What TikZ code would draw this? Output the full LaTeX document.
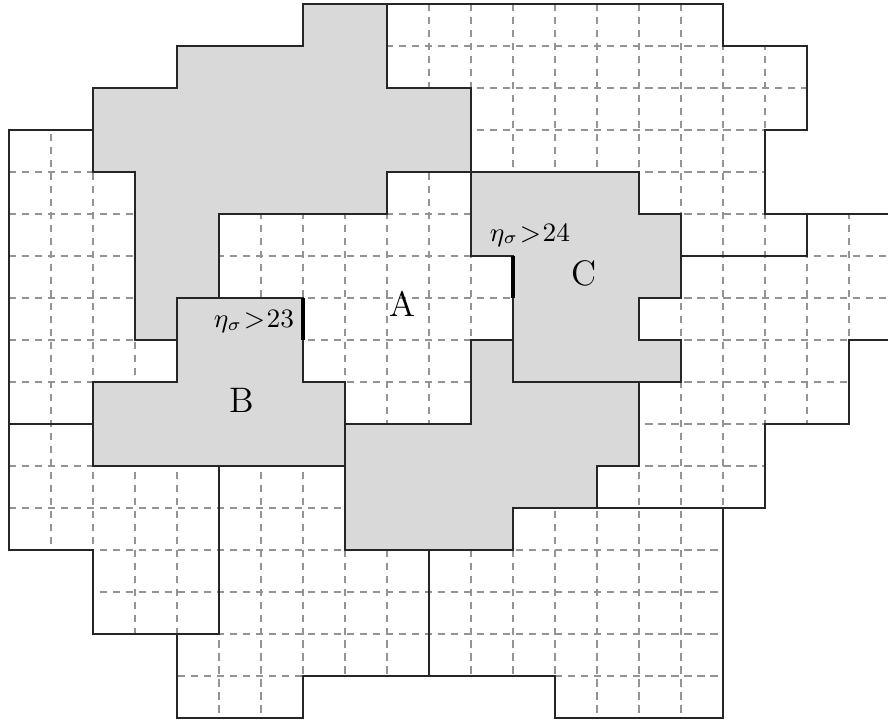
\documentclass[tikz,border=0pt]{standalone}
\begin{document}
\begin{tikzpicture}[x=0.5cm,y=-0.5cm,
  region/.style={draw=black!85,line width=0.45pt,line join=miter},
  shaded/.style={fill=gray!30},
  gridline/.style={draw=black!42,line width=0.38pt,dash pattern=on 2.4pt off 2pt},
  thickbar/.style={draw=black,line width=1.6pt},
  bigletter/.style={font=\fontsize{12}{14}\selectfont,inner sep=0pt,anchor=base},
  etalabel/.style={font=\fontsize{9}{10}\selectfont,inner sep=0pt,anchor=base}]
\clip (-0.2143,-0.0952) rectangle (20.929,17.095);
% white regions
\def\regA{(9,4) -- (11,4) -- (11,6) -- (12,6) -- (12,8) -- (11,8) -- (11,10) -- (8,10) -- (8,9) -- (7,9) -- (7,7) -- (5,7) -- (5,5) -- (9,5) -- cycle}
\def\regWa{(9,0) -- (17,0) -- (17,1) -- (19,1) -- (19,3) -- (18,3) -- (18,5) -- (19,5) -- (19,6) -- (16,6) -- (16,5) -- (15,5) -- (15,4) -- (11,4) -- (11,2) -- (9,2) -- cycle}
\def\regWb{(19,5) -- (21,5) -- (21,8) -- (20,8) -- (20,10) -- (18,10) -- (18,12) -- (14,12) -- (14,11) -- (15,11) -- (15,9) -- (16,9) -- (16,8) -- (15,8) -- (15,7) -- (16,7) -- (16,6) -- (19,6) -- cycle}
\def\regWc{(0,3) -- (2,3) -- (2,4) -- (3,4) -- (3,8) -- (4,8) -- (4,9) -- (2,9) -- (2,10) -- (0,10) -- cycle}
\def\regWd{(0,10) -- (2,10) -- (2,11) -- (5,11) -- (5,15) -- (2,15) -- (2,13) -- (0,13) -- cycle}
\def\regWe{(5,11) -- (8,11) -- (8,13) -- (10,13) -- (10,16) -- (7,16) -- (7,17) -- (4,17) -- (4,15) -- (5,15) -- cycle}
\def\regWf{(12,12) -- (17,12) -- (17,17) -- (13,17) -- (13,16) -- (10,16) -- (10,13) -- (12,13) -- cycle}
% gray regions
\def\regG{(7,0) -- (9,0) -- (9,2) -- (11,2) -- (11,4) -- (9,4) -- (9,5) -- (5,5) -- (5,7) -- (4,7) -- (4,8) -- (3,8) -- (3,4) -- (2,4) -- (2,2) -- (4,2) -- (4,1) -- (7,1) -- cycle}
\def\regB{(4,7) -- (7,7) -- (7,9) -- (8,9) -- (8,11) -- (2,11) -- (2,9) -- (4,9) -- cycle}
\def\regC{(11,4) -- (15,4) -- (15,5) -- (16,5) -- (16,7) -- (15,7) -- (15,8) -- (16,8) -- (16,9) -- (12,9) -- (12,6) -- (11,6) -- cycle}
\def\regD{(11,8) -- (12,8) -- (12,9) -- (15,9) -- (15,11) -- (14,11) -- (14,12) -- (12,12) -- (12,13) -- (8,13) -- (8,10) -- (11,10) -- cycle}
% dashed cell grid inside the white regions
\begin{scope}
  \clip \regA \regWa \regWb \regWc \regWd \regWe \regWf;
  \foreach \i in {0,...,21} \draw[gridline] (\i,0) -- (\i,17);
  \foreach \j in {0,...,17} \draw[gridline] (0,\j) -- (21,\j);
\end{scope}
% shaded regions
\fill[shaded] \regG;
\fill[shaded] \regB;
\fill[shaded] \regC;
\fill[shaded] \regD;
% region outlines
\draw[region] \regA \regWa \regWb \regWc \regWd \regWe \regWf \regG \regB \regC \regD;
% thick boundary marks
\draw[thickbar] (7,7) -- (7,8);
\draw[thickbar] (12,6) -- (12,7);
% labels
\node[bigletter] (labA) at (9.37,7.45) {A};
\node[bigletter] (labB) at (5.536,9.738) {B};
\node[bigletter] (labC) at (13.70,6.714) {C};
\node[etalabel] (eta23) at (5.833,7.707) {$\eta_\sigma\mkern1mu{>}\mkern1mu23$};
\node[etalabel] (eta24) at (12.405,5.643) {$\eta_\sigma\mkern1mu{>}\mkern1mu24$};
\end{tikzpicture}
\end{document}
